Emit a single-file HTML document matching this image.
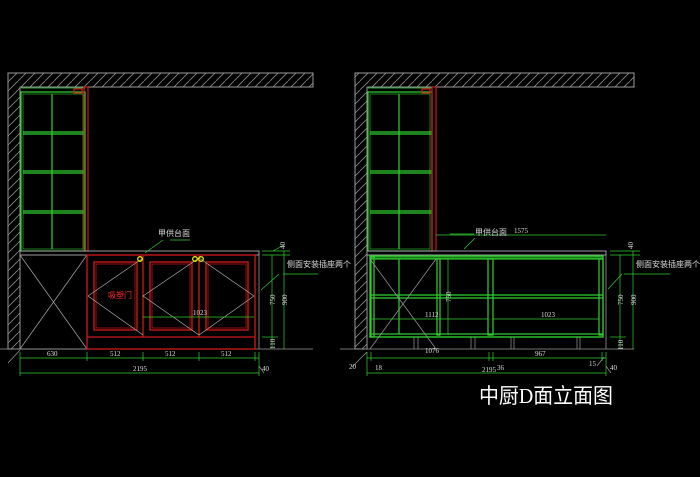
<!DOCTYPE html>
<html><head><meta charset="utf-8"><style>
html,body{margin:0;padding:0;background:#000;width:700px;height:477px;overflow:hidden}
svg{display:block}
text{font-family:"Liberation Serif","Noto Sans CJK SC",serif}
</style></head><body>
<svg width="700" height="477" viewBox="0 0 700 477" xmlns="http://www.w3.org/2000/svg">
<defs>
<pattern id="h" width="9" height="9" patternUnits="userSpaceOnUse">
<line x1="0" y1="9" x2="9" y2="0" stroke="#8a8a8a" stroke-width="0.8"/>
</pattern>
</defs>
<rect width="700" height="477" fill="#000"/>

<!-- ============ LEFT DRAWING ============ -->
<g>
<path d="M8,73 H313 V87 H20 V349 H8 Z" fill="url(#h)" stroke="#9a9a9a" stroke-width="1"/>
<g stroke="#2fd12f" fill="none" stroke-width="1.2">
<rect x="21" y="92" width="64" height="159"/>
<rect x="23" y="94" width="60" height="155" stroke-width="0.6"/>
<line x1="52" y1="94" x2="52" y2="249"/>
<line x1="23" y1="132" x2="85" y2="132"/><line x1="23" y1="134" x2="85" y2="134"/>
<line x1="23" y1="171" x2="85" y2="171"/><line x1="23" y1="173" x2="85" y2="173"/>
<line x1="23" y1="211" x2="85" y2="211"/><line x1="23" y1="213" x2="85" y2="213"/>
<line x1="21" y1="88" x2="85" y2="88" stroke-width="0.8"/>
</g>
<g stroke="#d01818" fill="none" stroke-width="1.2">
<rect x="84" y="87" width="4" height="164"/>
<rect x="74" y="89" width="8" height="4"/>
</g>
<rect x="20" y="251" width="239" height="4" fill="none" stroke="#9a9a9a" stroke-width="1"/>
<g stroke="#9a9a9a" fill="none" stroke-width="0.8">
<rect x="20" y="255" width="67" height="94"/>
<line x1="20" y1="255" x2="87" y2="349"/><line x1="87" y1="255" x2="20" y2="349"/>
<line x1="255" y1="255" x2="259" y2="255"/><line x1="259" y1="255" x2="259" y2="349"/>
<line x1="0" y1="349" x2="313" y2="349"/>
</g>
<g stroke="#d01818" fill="none" stroke-width="1.3">
<rect x="87" y="255" width="168" height="94"/>
<line x1="87" y1="337" x2="255" y2="337"/>
<line x1="143" y1="256" x2="143" y2="337"/><line x1="199" y1="256" x2="199" y2="337"/>
<rect x="94" y="262" width="43" height="68"/><rect x="96" y="264" width="39" height="64" stroke-width="0.7"/>
<rect x="150" y="262" width="42" height="68"/><rect x="152" y="264" width="38" height="64" stroke-width="0.7"/>
<rect x="206" y="262" width="42" height="68"/><rect x="208" y="264" width="38" height="64" stroke-width="0.7"/>
</g>
<g stroke="#bbbbbb" fill="none" stroke-width="0.6">
<path d="M143,258 L88,296 L143,335"/>
<path d="M199,258 L143,296 L199,335"/>
<path d="M199,258 L254,296 L199,335"/>
</g>
<g stroke="#e8e800" fill="none" stroke-width="1.3">
<circle cx="140" cy="259" r="2.3"/><circle cx="195" cy="259" r="2.3"/><circle cx="201" cy="259" r="2.3"/>
</g>
<text x="108" y="298" font-size="8" fill="#ff3030">吸塑门</text>
<line x1="143" y1="317" x2="254" y2="317" stroke="#2fd12f" stroke-width="0.7"/>
<text x="193" y="315" font-size="7" fill="#ddd">1023</text>
<line x1="170" y1="240" x2="190" y2="240" stroke="#2fd12f" stroke-width="0.7"/>
<line x1="163" y1="240" x2="145" y2="253" stroke="#2fd12f" stroke-width="0.7"/>
<text x="158" y="236" font-size="8" fill="#ddd">甲供台面</text>
<text x="287" y="267" font-size="8" fill="#ddd">侧面安装插座两个</text>
<line x1="283" y1="274" x2="318" y2="274" stroke="#2fd12f" stroke-width="0.7"/>
<line x1="279" y1="274" x2="261" y2="290" stroke="#2fd12f" stroke-width="0.7"/>
<g stroke="#2fd12f" stroke-width="0.7" fill="none">
<line x1="272" y1="255" x2="272" y2="349"/><line x1="284" y1="251" x2="284" y2="349"/>
<line x1="262" y1="251" x2="290" y2="251"/><line x1="262" y1="255" x2="290" y2="255"/>
<line x1="262" y1="337" x2="278" y2="337"/>
<line x1="273" y1="251" x2="284" y2="245"/>
</g>
<g fill="#ddd" font-size="7">
<text transform="translate(275,305) rotate(-90)">750</text>
<text transform="translate(287,305) rotate(-90)">900</text>
<text transform="translate(275,349) rotate(-90)">110</text>
<text transform="translate(285,249) rotate(-90)">40</text>
</g>
<g stroke="#2fd12f" stroke-width="0.7" fill="none">
<line x1="20" y1="358" x2="259" y2="358"/>
<line x1="20" y1="373" x2="259" y2="373"/>
<line x1="20" y1="352" x2="20" y2="376"/><line x1="87" y1="352" x2="87" y2="361"/>
<line x1="143" y1="352" x2="143" y2="361"/><line x1="199" y1="352" x2="199" y2="361"/>
<line x1="255" y1="352" x2="255" y2="361"/><line x1="259" y1="352" x2="259" y2="376"/>
</g>
<g stroke="#9a9a9a" stroke-width="0.7"><line x1="8" y1="363" x2="20" y2="350"/><line x1="259" y1="366" x2="264" y2="373"/></g>
<g fill="#ddd" font-size="7">
<text x="47" y="356">630</text><text x="110" y="356">512</text><text x="165" y="356">512</text><text x="221" y="356">512</text>
<text x="133" y="371">2195</text><text x="262" y="371">40</text>
</g>
</g>

<!-- ============ RIGHT DRAWING ============ -->
<g>
<path d="M355,73 H634 V87 H367 V349 H355 Z" fill="url(#h)" stroke="#9a9a9a" stroke-width="1"/>
<g stroke="#2fd12f" fill="none" stroke-width="1.2">
<rect x="368" y="92" width="64" height="159"/>
<rect x="370" y="94" width="60" height="155" stroke-width="0.6"/>
<line x1="399" y1="94" x2="399" y2="249"/>
<line x1="370" y1="132" x2="432" y2="132"/><line x1="370" y1="134" x2="432" y2="134"/>
<line x1="370" y1="171" x2="432" y2="171"/><line x1="370" y1="173" x2="432" y2="173"/>
<line x1="370" y1="211" x2="432" y2="211"/><line x1="370" y1="213" x2="432" y2="213"/>
<line x1="368" y1="88" x2="432" y2="88" stroke-width="0.8"/>
</g>
<g stroke="#d01818" fill="none" stroke-width="1.2">
<rect x="432" y="87" width="4" height="164"/>
<rect x="422" y="89" width="8" height="4"/>
</g>
<rect x="367" y="251" width="239" height="4" fill="none" stroke="#9a9a9a" stroke-width="1"/>
<line x1="606" y1="255" x2="606" y2="349" stroke="#9a9a9a" stroke-width="0.8"/>
<line x1="340" y1="349" x2="634" y2="349" stroke="#9a9a9a" stroke-width="0.8"/>
<g stroke="#2fd12f" fill="none" stroke-width="1.2">
<rect x="370" y="256" width="233" height="81"/>
<rect x="370" y="256" width="233" height="3" fill="#1a7a1a"/>
<rect x="370" y="334" width="233" height="3"/>
<rect x="371" y="257" width="3" height="80"/>
<line x1="399" y1="259" x2="399" y2="334"/>
<rect x="437" y="259" width="3" height="76"/>
<rect x="488" y="259" width="5" height="76"/>
<rect x="599" y="259" width="4" height="76"/>
<line x1="370" y1="295" x2="603" y2="295"/><line x1="370" y1="298" x2="603" y2="298"/>
</g>
<g stroke="#9a9a9a" fill="none" stroke-width="0.7">
<line x1="370" y1="259" x2="436" y2="349"/><line x1="436" y1="259" x2="370" y2="349"/>
<line x1="414" y1="337" x2="414" y2="349"/><line x1="418" y1="337" x2="418" y2="349"/>
<line x1="471" y1="337" x2="471" y2="349"/><line x1="475" y1="337" x2="475" y2="349"/>
<line x1="511" y1="337" x2="511" y2="349"/><line x1="514" y1="337" x2="514" y2="349"/>
<line x1="577" y1="337" x2="577" y2="349"/><line x1="580" y1="337" x2="580" y2="349"/>
</g>
<g stroke="#2fd12f" stroke-width="0.7" fill="none">
<line x1="448" y1="258" x2="448" y2="335"/>
<line x1="371" y1="319" x2="488" y2="319"/>
<line x1="493" y1="319" x2="599" y2="319"/>
<line x1="436" y1="235" x2="606" y2="235"/>
</g>
<g fill="#ddd" font-size="7">
<text transform="translate(451,302) rotate(-90)">750</text>
<text x="425" y="317">1112</text><text x="541" y="317">1023</text>
<text x="425" y="353">1076</text>
<text x="514" y="233">1575</text>
</g>
<line x1="450" y1="234" x2="474" y2="234" stroke="#2fd12f" stroke-width="0.7"/>
<line x1="475" y1="238" x2="464" y2="249" stroke="#2fd12f" stroke-width="0.7"/>
<text x="475" y="235" font-size="8" fill="#ddd">甲供台面</text>
<text x="636" y="267" font-size="8" fill="#ddd">侧面安装插座两个</text>
<line x1="624" y1="274" x2="670" y2="274" stroke="#2fd12f" stroke-width="0.7"/>
<line x1="622" y1="274" x2="608" y2="289" stroke="#2fd12f" stroke-width="0.7"/>
<g stroke="#2fd12f" stroke-width="0.7" fill="none">
<line x1="620" y1="255" x2="620" y2="349"/><line x1="633" y1="251" x2="633" y2="349"/>
<line x1="610" y1="251" x2="640" y2="251"/><line x1="610" y1="255" x2="640" y2="255"/>
<line x1="610" y1="337" x2="626" y2="337"/>
</g>
<g fill="#ddd" font-size="7">
<text transform="translate(623,305) rotate(-90)">750</text>
<text transform="translate(636,305) rotate(-90)">900</text>
<text transform="translate(623,350) rotate(-90)">110</text>
<text transform="translate(633,249) rotate(-90)">40</text>
</g>
<g stroke="#2fd12f" stroke-width="0.7" fill="none">
<line x1="367" y1="358" x2="606" y2="358"/>
<line x1="367" y1="373" x2="606" y2="373"/>
<line x1="367" y1="352" x2="367" y2="376"/><line x1="371" y1="352" x2="371" y2="361"/>
<line x1="489" y1="352" x2="489" y2="361"/><line x1="493" y1="352" x2="493" y2="361"/>
<line x1="602" y1="352" x2="602" y2="361"/><line x1="606" y1="352" x2="606" y2="376"/>
</g>
<g stroke="#9a9a9a" stroke-width="0.7"><line x1="352" y1="367" x2="367" y2="352"/><line x1="597" y1="366" x2="604" y2="357"/><line x1="606" y1="366" x2="611" y2="373"/></g>
<g fill="#ddd" font-size="7">
<text x="349" y="369">20</text><text x="375" y="370">18</text>
<text x="535" y="356">967</text>
<text x="482" y="372">2195</text><text x="497" y="370">36</text>
<text x="589" y="366">15</text><text x="610" y="370">40</text>
</g>
</g>

<text x="479" y="403" font-size="21" fill="#fff" font-family="'Liberation Serif','Noto Serif CJK SC',serif" textLength="134" lengthAdjust="spacingAndGlyphs">中厨D面立面图</text>
</svg>
</body></html>
